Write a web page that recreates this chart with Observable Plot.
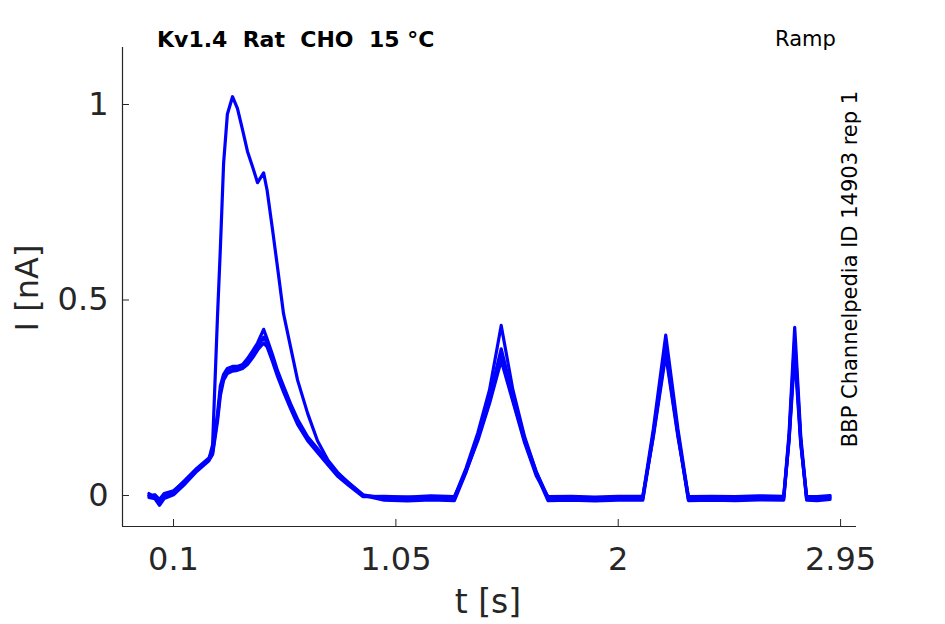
<!DOCTYPE html>
<html><head><meta charset="utf-8">
<script src="https://cdn.jsdelivr.net/npm/d3@7"></script>
<script src="https://cdn.jsdelivr.net/npm/@observablehq/plot@0.6"></script>
<style>body{margin:0;background:#fff}#chart{width:945px;height:624px}</style>
</head><body><div id="chart"></div>
<script>
// time points [s]
const time = [-0.005, 0.02, 0.04, 0.06, 0.10, 0.15, 0.20, 0.25,
  0.267, 0.288, 0.30, 0.314, 0.33, 0.352, 0.373, 0.395, 0.416, 0.438, 0.459, 0.485, 0.50, 0.523, 0.544, 0.57, 0.60, 0.63, 0.673, 0.715, 0.76, 0.80, 0.85, 0.91,
  1.00, 1.10, 1.20, 1.30,
  1.35, 1.40, 1.45, 1.50, 1.55, 1.60, 1.65, 1.70,
  1.80, 1.90, 2.00,
  2.105, 2.15, 2.203, 2.255, 2.30,
  2.40, 2.50, 2.60,
  2.707, 2.73, 2.754, 2.78, 2.805,
  2.85, 2.905];
// current sweeps [nA]
const sweepA = [0.000, 0.000, -0.020, -0.005, 0.005, 0.035, 0.065, 0.090,
  0.130, 0.460, 0.630, 0.850, 0.975, 1.020, 0.990, 0.935, 0.880, 0.840, 0.800, 0.825, 0.780, 0.680, 0.585, 0.465, 0.380, 0.295, 0.210, 0.140, 0.090, 0.060, 0.030, 0.000,
  -0.005, -0.004, -0.006, -0.004,
  0.070, 0.160, 0.270, 0.435, 0.270, 0.150, 0.060, -0.005,
  -0.004, -0.006, -0.004,
  -0.003, 0.170, 0.410, 0.170, -0.005,
  -0.004, -0.006, -0.004,
  -0.003, 0.160, 0.430, 0.150, -0.005,
  -0.004, -0.003];
const sweepB = [0.005, -0.005, -0.015, 0.000, 0.010, 0.040, 0.070, 0.095,
  0.115, 0.210, 0.280, 0.310, 0.325, 0.330, 0.330, 0.335, 0.350, 0.370, 0.390, 0.425, 0.400, 0.360, 0.320, 0.280, 0.235, 0.195, 0.150, 0.120, 0.085, 0.058, 0.032, 0.002,
  -0.008, -0.010, -0.007, -0.009,
  0.065, 0.150, 0.250, 0.375, 0.255, 0.145, 0.060, -0.010,
  -0.008, -0.010, -0.009,
  -0.008, 0.160, 0.385, 0.160, -0.010,
  -0.009, -0.008, -0.010,
  -0.008, 0.150, 0.400, 0.140, -0.010,
  -0.008, -0.006];
const sweepC = [0.000, 0.002, -0.010, 0.005, 0.012, 0.038, 0.068, 0.092,
  0.110, 0.200, 0.265, 0.300, 0.318, 0.322, 0.325, 0.330, 0.342, 0.360, 0.380, 0.405, 0.390, 0.350, 0.312, 0.272, 0.228, 0.188, 0.145, 0.115, 0.080, 0.055, 0.028, 0.000,
  -0.012, -0.014, -0.011, -0.013,
  0.060, 0.145, 0.240, 0.360, 0.245, 0.140, 0.055, -0.013,
  -0.012, -0.014, -0.012,
  -0.012, 0.155, 0.370, 0.155, -0.013,
  -0.012, -0.013, -0.011,
  -0.012, 0.145, 0.380, 0.135, -0.012,
  -0.013, -0.010];
const sweepD = [-0.005, -0.008, -0.025, -0.008, 0.002, 0.030, 0.062, 0.088,
  0.105, 0.190, 0.255, 0.295, 0.312, 0.318, 0.320, 0.325, 0.335, 0.352, 0.372, 0.390, 0.380, 0.342, 0.305, 0.265, 0.222, 0.182, 0.140, 0.110, 0.078, 0.050, 0.025, -0.003,
  -0.002, -0.004, -0.001, -0.003,
  0.062, 0.140, 0.235, 0.345, 0.240, 0.135, 0.050, -0.003,
  -0.002, -0.004, -0.002,
  -0.002, 0.150, 0.360, 0.150, -0.003,
  -0.002, -0.003, -0.001,
  -0.002, 0.140, 0.360, 0.130, -0.002,
  -0.003, 0.000];

const xTicks = [0.1, 1.05, 2, 2.95];
const yTicks = [0, 0.5, 1];
const xDomain = [-0.118, 3.018];
const yDomain = [-0.0793, 1.1458];

const sweeps = [["A", sweepA], ["B", sweepB], ["C", sweepC], ["D", sweepD]];
const rows = sweeps.flatMap(([id, vals]) => vals.map((v, i) => ({sweep: id, t: time[i], I: v})));

const font = "'DejaVu Sans', 'Liberation Sans', sans-serif";
const axisColor = "#262626";

const plot = Plot.plot({
  width: 945, height: 624,
  marginLeft: 122, marginRight: 89, marginTop: 47, marginBottom: 98,
  style: {fontFamily: font, background: "#fff", color: axisColor, overflow: "visible"},
  x: {domain: xDomain},
  y: {domain: yDomain},
  marks: [
    Plot.line(rows, {x: "t", y: "I", z: "sweep", stroke: "#0000ff", strokeWidth: 3.2, strokeLinejoin: "round"}),
    Plot.ruleX([xDomain[0]], {stroke: axisColor, strokeWidth: 1.2}),
    Plot.ruleY([yDomain[0]], {stroke: axisColor, strokeWidth: 1.2}),
    Plot.axisX(xTicks, {tickSize: -7, text: null, label: null, stroke: axisColor}),
    Plot.axisX(xTicks, {tickSize: 0, tickPadding: 21, fontSize: 32, tickFormat: d => String(d), label: null, fill: axisColor}),
    Plot.axisY(yTicks, {tickSize: -7, text: null, label: null, stroke: axisColor}),
    Plot.axisY(yTicks, {tickSize: 0, tickPadding: 14, fontSize: 32, tickFormat: d => String(d), label: null, fill: axisColor})
  ]
});

const svg = d3.select(plot);
svg.append("text").attr("x", 157).attr("y", 47).attr("text-anchor", "start")
  .attr("font-family", font).attr("font-size", 22).attr("font-weight", "bold").attr("fill", "#000")
  .style("white-space", "pre").text("Kv1.4  Rat  CHO  15 °C");
svg.append("text").attr("x", 775).attr("y", 46).attr("text-anchor", "start")
  .attr("font-family", font).attr("font-size", 21).attr("fill", "#000").text("Ramp");
svg.append("text").attr("transform", "translate(857,269) rotate(-90)").attr("text-anchor", "middle")
  .attr("font-family", font).attr("font-size", 21).attr("fill", "#000").text("BBP Channelpedia ID 14903 rep 1");
svg.append("text").attr("transform", "translate(38,288) rotate(-90)").attr("text-anchor", "middle")
  .attr("font-family", font).attr("font-size", 32).attr("fill", axisColor).text("I [nA]");
svg.append("text").attr("x", 488).attr("y", 613).attr("text-anchor", "middle")
  .attr("font-family", font).attr("font-size", 33).attr("fill", axisColor).text("t [s]");

document.getElementById("chart").appendChild(plot);
</script>
</body></html>
